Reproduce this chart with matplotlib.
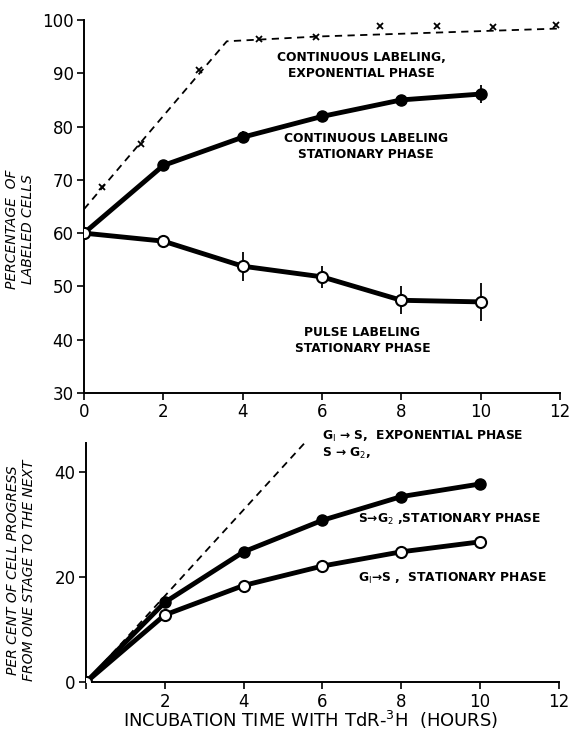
import matplotlib
matplotlib.use("Agg")
import matplotlib.pyplot as plt

# ---------------- data ----------------
# Top panel
hours = [0, 2, 4, 6, 8, 10]
cont_stat = [60.0, 72.7, 78.0, 81.9, 85.0, 86.1]
cont_stat_err = [0, 0, 1.1, 0, 0.6, 1.7]
pulse_stat = [60.0, 58.5, 53.8, 51.8, 47.4, 47.1]
pulse_stat_err = [0, 0, 2.7, 2.1, 2.6, 3.6]

exp_x_marks = [0.45, 1.43, 2.91, 4.42, 5.85, 7.45, 8.89, 10.32, 11.9]
exp_y_marks = [68.7, 76.8, 90.6, 96.4, 96.9, 98.9, 98.9, 98.7, 99.1]
exp_line_x = [0, 3.6, 5.9, 12]
exp_line_y = [64.5, 96.0, 96.9, 98.4]

top_xticks = [0, 2, 4, 6, 8, 10, 12]
top_yticks = [30, 40, 50, 60, 70, 80, 90, 100]

# Bottom panel
hours_b = [0, 2, 4, 6, 8, 10]
s_g2_stat = [0, 15.2, 24.8, 30.8, 35.3, 37.7]
g1_s_stat = [0, 12.8, 18.4, 22.1, 24.8, 26.7]
exp_b_x = [0, 5.55]
exp_b_y = [0, 45.5]

bot_xticks = [0, 2, 4, 6, 8, 10, 12]
bot_xticklabels = ["", "2", "4", "6", "8", "10", "12"]
bot_yticks = [0, 20, 40]

# ---------------- figure ----------------
plt.rcParams['font.family'] = ['DejaVu Sans']
fig = plt.figure(figsize=(5.71, 7.40), dpi=100)

ax1 = fig.add_axes([0.1471, 0.4689, 0.8336, 0.5041])
ax2 = fig.add_axes([0.1506, 0.0780, 0.8280, 0.3234])

for ax in (ax1, ax2):
    for s in ("top", "right"):
        ax.spines[s].set_visible(False)
    for s in ("left", "bottom"):
        ax.spines[s].set_linewidth(1.4)
    ax.tick_params(direction="out", length=5, width=1.2, labelsize=12, pad=2.5)

# Top panel
ax1.plot(exp_line_x, exp_line_y, ls=(0, (4, 3)), color="black", lw=1.3)
ax1.plot(exp_x_marks, exp_y_marks, ls="none", marker="x", color="black",
         ms=4.8, mew=1.3)
ax1.errorbar(hours, cont_stat, yerr=cont_stat_err, color="black", lw=3.5,
             marker="o", ms=8, mfc="black", mec="black", ecolor="black",
             elinewidth=1.3, capsize=0, zorder=3)
ax1.errorbar(hours, pulse_stat, yerr=pulse_stat_err, color="black", lw=3.5,
             marker="o", ms=8, mfc="white", mec="black", mew=1.5,
             ecolor="black", elinewidth=1.3, capsize=0, zorder=3)

ax1.set_xlim(0, 12)
ax1.set_ylim(30, 100)
ax1.set_xticks(top_xticks)
ax1.set_yticks(top_yticks)
ax1.set_ylabel("PERCENTAGE  OF\nLABELED CELLS", fontsize=10, style="italic",
               linespacing=1.15)
ax1.yaxis.set_label_coords(-0.103, 0.44)

tk = dict(ha="center", va="center", fontsize=8.8, fontweight="bold",
          linespacing=1.3)
ax1.text(7.0, 91.5, "CONTINUOUS LABELING,\nEXPONENTIAL PHASE", **tk)
ax1.text(7.1, 76.2, "CONTINUOUS LABELING\nSTATIONARY PHASE", **tk)
ax1.text(7.02, 39.8, "PULSE LABELING\nSTATIONARY PHASE", **tk)

# Bottom panel
ax2.plot(exp_b_x, exp_b_y, ls=(0, (4, 3)), color="black", lw=1.3)
ax2.plot(hours_b, s_g2_stat, color="black", lw=3.5, marker="o", ms=8,
         mfc="black", mec="black", zorder=3)
ax2.plot(hours_b, g1_s_stat, color="black", lw=3.5, marker="o", ms=8,
         mfc="white", mec="black", mew=1.5, zorder=3)

ax2.set_xlim(0, 12)
ax2.set_ylim(0, 45.5)
ax2.set_xticks(bot_xticks)
ax2.set_xticklabels(bot_xticklabels)
ax2.set_yticks(bot_yticks)
ax2.set_ylabel("PER CENT OF CELL PROGRESS\nFROM ONE STAGE TO THE NEXT",
               fontsize=10, style="italic", linespacing=1.15)
ax2.yaxis.set_label_coords(-0.106, 0.47)
ax2.set_xlabel("INCUBATION TIME WITH TdR-$^{3}$H  (HOURS)", fontsize=13)
ax2.xaxis.set_label_coords(0.476, -0.112)

tb = dict(ha="left", va="center", fontsize=8.8, fontweight="bold",
          clip_on=False)
ax2.text(5.98, 46.8, "G$_{\\mathsf{I}}$ \u2192 S,  EXPONENTIAL PHASE", **tb)
ax2.text(5.98, 43.6, "S \u2192 G$_2$,", **tb)
ax2.text(6.9, 31.0, "S\u2192G$_2$ ,STATIONARY PHASE", **tb)
ax2.text(6.9, 19.8, "G$_{\\mathsf{I}}$\u2192S ,  STATIONARY PHASE", **tb)

fig.savefig("out.png", dpi=100)
